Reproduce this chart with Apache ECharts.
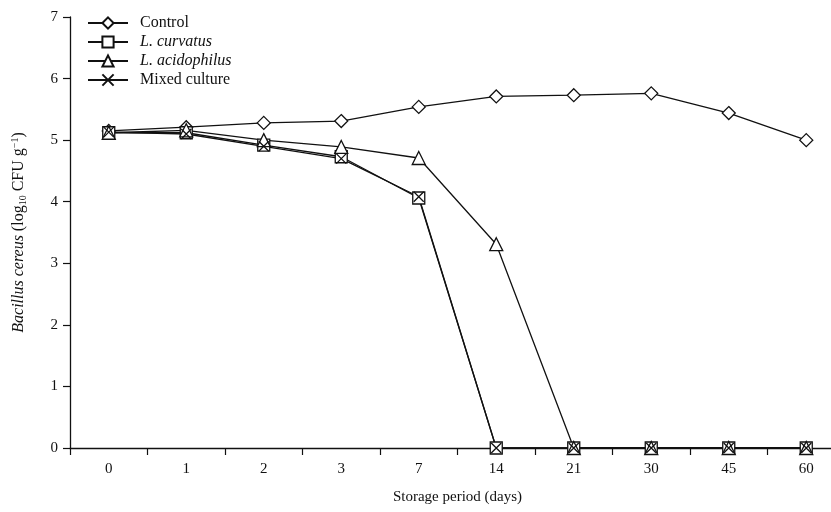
<!DOCTYPE html>
<html><head><meta charset="utf-8">
<script src="https://cdn.jsdelivr.net/npm/echarts@6/dist/echarts.min.js"></script>
<style>html,body{margin:0;padding:0;background:#fff}#c{width:831px;height:512px}</style>
</head><body><div id="c"></div>
<script>
var categories = ['0','1','2','3','7','14','21','30','45','60'];
var control = [5.15,5.21,5.28,5.31,5.54,5.71,5.73,5.76,5.44,5.00];
var curvatus = [5.12,5.12,4.92,4.73,4.06,0,0,0,0,0];
var acidophilus = [5.12,5.16,5.00,4.89,4.71,3.31,0,0,0,0];
var mixed = [5.13,5.10,4.90,4.70,4.08,0,0,0,0,0];
var yTicks = [0,1,2,3,4,5,6,7];

var F = '"Liberation Serif","DejaVu Serif",serif';
var chart = echarts.init(document.getElementById('c'));
function ser(name, data, symbol, size){
  return {name:name,type:'line',data:data,symbol:symbol,symbolSize:size,showAllSymbol:true,
    lineStyle:{color:'#111',width:1.3},
    itemStyle:{color:'#fff',borderColor:'#111',borderWidth:1.3},
    emphasis:{disabled:true},z:2};
}
chart.setOption({
  animation:false,
  grid:{left:70,top:17,bottom:64,right:-14,containLabel:false,outerBoundsMode:'none'},
  legend:{orient:'vertical',left:82,top:10,itemGap:3,itemWidth:40,itemHeight:14,
    textStyle:{fontFamily:F,fontSize:16,color:'#111',padding:[0,0,0,7],
      rich:{i:{fontFamily:F,fontSize:16,fontStyle:'italic',color:'#111'}}},
    formatter:function(n){ if(n.indexOf('L.')===0) return '{i|'+n+'}'; return n; },
    data:['Control','L. curvatus','L. acidophilus','Mixed culture']},
  xAxis:{type:'category',data:categories,boundaryGap:true,
    name:'Storage period (days)',nameLocation:'middle',nameGap:42,
    nameTextStyle:{fontFamily:F,fontSize:15,color:'#111'},
    axisLine:{lineStyle:{color:'#111',width:1.3}},
    axisTick:{show:true,length:7,inside:false,alignWithLabel:false,lineStyle:{color:'#111',width:1.2}},
    axisLabel:{fontFamily:F,fontSize:15,color:'#111',margin:14},
    splitLine:{show:false}},
  yAxis:{type:'value',min:0,max:7,interval:1,
    name:'{i|Bacillus cereus} (log{s|10} CFU g{p|−1})',nameLocation:'middle',nameGap:42,nameRotate:90,
    nameTextStyle:{fontFamily:F,fontSize:16,color:'#111',
      rich:{i:{fontFamily:F,fontSize:16,fontStyle:'italic',color:'#111'},
        s:{fontFamily:F,fontSize:10,color:'#111',verticalAlign:'bottom',padding:[8,0,0,0]},
        p:{fontFamily:F,fontSize:10,color:'#111',verticalAlign:'top',padding:[0,0,8,0]}}},
    axisLine:{show:true,lineStyle:{color:'#111',width:1.3}},
    axisTick:{show:true,length:7,lineStyle:{color:'#111',width:1.2}},
    axisLabel:{fontFamily:F,fontSize:15,color:'#111',margin:12,
      formatter:function(v){return yTicks.indexOf(v)>=0?String(v):'';}},
    splitLine:{show:false}},
  series:[
    ser('Control',control,'diamond',13),
    ser('L. curvatus',curvatus,'rect',12),
    ser('L. acidophilus',acidophilus,'triangle',13),
    ser('Mixed culture',mixed,'path://M0,0L10,10M10,0L0,10',10)
  ]
});
</script></body></html>
